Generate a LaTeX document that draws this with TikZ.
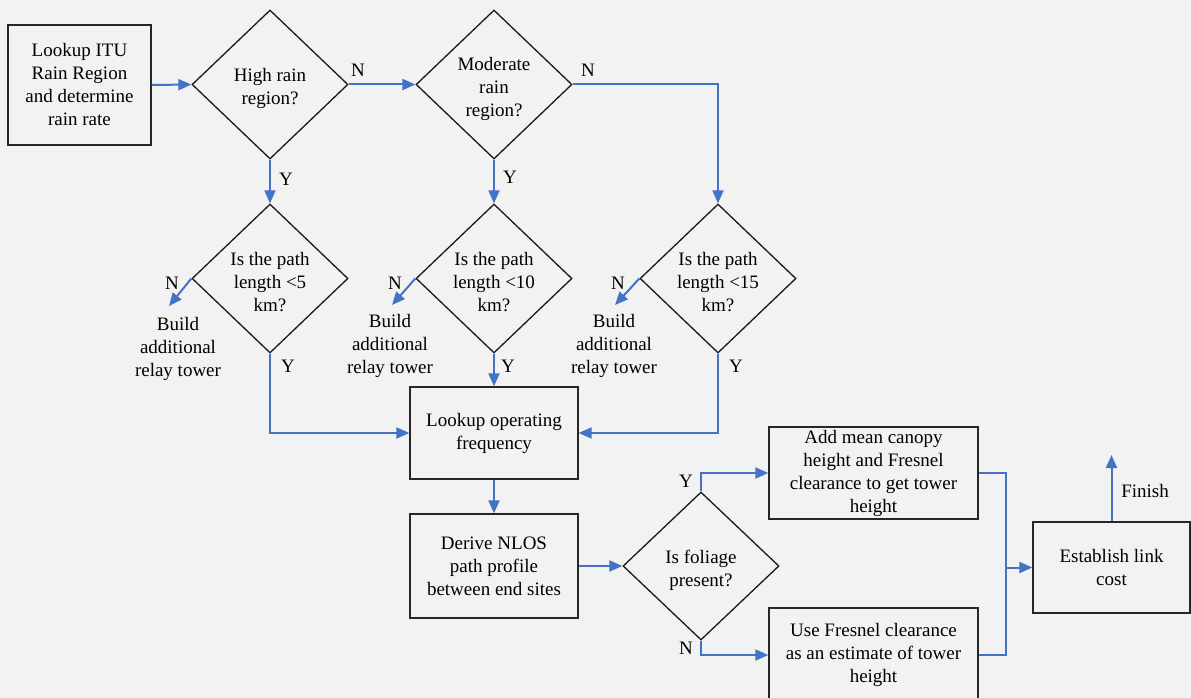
\documentclass[tikz,border=0pt]{standalone}
\usepackage{fontspec}
\setmainfont{Liberation Serif}
\usetikzlibrary{shapes.geometric,arrows.meta}
\definecolor{bg}{HTML}{F2F2F2}
\definecolor{flow}{HTML}{4472C4}
\begin{document}
\begin{tikzpicture}[x=1pt,y=-1pt,
  font=\fontsize{19}{23}\selectfont,
  box/.style={draw=black!85,line width=1.3pt,rectangle,inner sep=0pt,align=center},
  dec/.style={draw=black!90,line width=1.3pt,diamond,inner sep=0pt,minimum width=156pt,minimum height=149pt},
  conn/.style={draw=flow,line width=2pt},
  arr/.style={conn,-{Triangle[length=13pt,width=11pt]}},
  lbl/.style={inner sep=0pt,align=center},
  dtext/.style={lbl,yshift=-4pt}
]
\useasboundingbox (0,0) rectangle (1191,698);
\fill[bg] (0,0) rectangle (1191,698);
\clip (0,0) rectangle (1191,698);

% nodes
\node[box,minimum width=143pt,minimum height=120pt] (itu) at (79.5,85) {Lookup ITU\\Rain Region\\and determine\\rain rate};
\node[dec] (d1) at (270,84.5) {};
\node[dtext] (d1t) at (d1) {High rain\\region?};
\node[dec] (d2) at (494,84.5) {};
\node[dtext] (d2t) at (d2) {Moderate\\rain\\region?};
\node[dec] (da) at (270,278.5) {};
\node[dtext] (dat) at (da) {Is the path\\length <5\\km?};
\node[dec] (db) at (494,278.5) {};
\node[dtext] (dbt) at (db) {Is the path\\length <10\\km?};
\node[dec] (dc) at (718,278.5) {};
\node[dtext] (dct) at (dc) {Is the path\\length <15\\km?};

\node[lbl] (ra) at (178,349) {Build\\additional\\relay tower};
\node[lbl] (rb) at (390,346) {Build\\additional\\relay tower};
\node[lbl] (rc) at (614,346) {Build\\additional\\relay tower};

\node[box,minimum width=168pt,minimum height=92pt] (lof) at (494,433) {Lookup operating\\frequency};
\node[box,minimum width=168pt,minimum height=104pt] (nlos) at (494,566) {Derive NLOS\\path profile\\between end sites};
\node[dec,minimum height=148pt] (df) at (701,566) {};
\node[dtext] (dft) at (df) {Is foliage\\present?};
\node[box,minimum width=209pt,minimum height=92pt] (add) at (873.5,473) {Add mean canopy\\height and Fresnel\\clearance to get tower\\height};
\node[box,minimum width=209pt,minimum height=94pt] (use) at (873.5,655) {Use Fresnel clearance\\as an estimate of tower\\height};
\node[box,minimum width=157pt,minimum height=91pt] (est) at (1111.5,567.5) {Establish link\\cost};

% coordinates
\coordinate (ta) at (169,306);
\coordinate (tb) at (392,305);
\coordinate (tc) at (615,305);
\coordinate (jn) at (1006,567.5);
\coordinate (fin) at (1111.5,455);

% connectors
\draw[arr] (itu.east) -- (d1.west);
\draw[arr] (d1.east) -- (d2.west);
\draw[arr] (d2.east) -| (dc.north);
\draw[arr] (d1.south) -- (da.north);
\draw[arr] (d2.south) -- (db.north);
\draw[arr] (da.west) -- (ta);
\draw[arr] (db.west) -- (tb);
\draw[arr] (dc.west) -- (tc);
\draw[arr] (da.south) |- (lof.west);
\draw[arr] (db.south) -- (lof.north);
\draw[arr] (dc.south) |- (lof.east);
\draw[arr] (lof.south) -- (nlos.north);
\draw[arr] (nlos.east) -- (df.west);
\draw[arr] (df.north) |- (add.west);
\draw[arr] (df.south) |- (use.west);
\draw[conn] (add.east) -| (jn);
\draw[conn] (use.east) -| (jn);
\draw[arr] (jn) -- (est.west);
\draw[arr] (est.north) -- (fin);

% labels
\node[lbl] (n1) at (358,70) {N};
\node[lbl] (n2) at (588,70) {N};
\node[lbl] (y1) at (286,179) {Y};
\node[lbl] (y2) at (510,177) {Y};
\node[lbl] (na) at (172,283) {N};
\node[lbl] (nb) at (395,283) {N};
\node[lbl] (nc) at (618,283) {N};
\node[lbl] (ya) at (288,366) {Y};
\node[lbl] (yb) at (508,366) {Y};
\node[lbl] (yc) at (736,366) {Y};
\node[lbl] (yf) at (686,481) {Y};
\node[lbl] (nf) at (686,648) {N};
\node[lbl] (fn) at (1145,491) {Finish};
\end{tikzpicture}
\end{document}
